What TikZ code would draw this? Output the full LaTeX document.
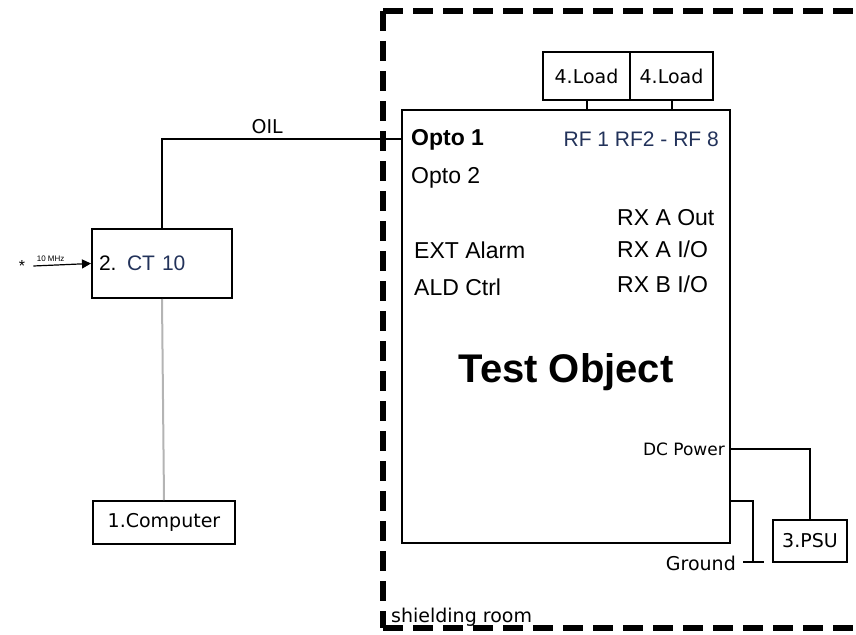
\documentclass[tikz,border=0pt]{standalone}
\usepackage{fontspec}
\setmainfont{Liberation Sans}
\newfontfamily\dvsans{DejaVu Sans}
\usetikzlibrary{arrows.meta,positioning,calc}
\definecolor{TOnavy}{HTML}{22325A}
\definecolor{wireGray}{HTML}{B4B4B4}

\newcommand{\fs}[1]{\fontsize{#1}{#1}\selectfont}

\begin{document}
\begin{tikzpicture}[x=1pt,y=-1pt,
  unit/.style={draw,line width=2pt,inner sep=0pt,font=\dvsans\fs{19}},
  wire/.style={line width=2pt},
  port/.style={inner sep=0pt,font=\fs{23}},
  room/.style={line width=6pt,dash pattern=on 20pt off 10pt}]
\useasboundingbox (0,0) rectangle (856,634);
% shielding room
\draw[room] (383,11) -- (856,11);
\draw[room] (383,11) -- (383,628);
\draw[room] (383,628) -- (856,628);
\node[inner sep=0pt,anchor=base west,font=\dvsans\fs{19}] (roomlbl) at (391,622) {shielding room};
% units
\node[unit,minimum width=328pt,minimum height=433pt] (test) at (566,326.5) {};
\node[unit,minimum width=140pt,minimum height=69pt,text width=126pt,align=left,
  font=\fs{21}] (ct) at (162,263.5) {2. \textcolor{TOnavy}{CT 10}};
\node[unit,minimum width=142pt,minimum height=43pt] (pc) at (164,522.5) {1.Computer};
\node[unit,minimum width=87pt,minimum height=48pt] (load1) at (586.5,76) {4.Load};
\node[unit,minimum width=83pt,minimum height=48pt] (load2) at (671.5,76) {4.Load};
\node[unit,minimum width=74pt,minimum height=42pt] (psu) at (810,541) {3.PSU};
% ports of the test object
\node[port,anchor=base west] (opto1) at (411,145) {\bfseries Opto 1};
\node[port,anchor=base west] (opto2) at (411,183) {Opto 2};
\node[port,anchor=base west] (extalarm) at (414,258) {EXT Alarm};
\node[port,anchor=base west] (aldctrl) at (414,295) {ALD Ctrl};
\node[port,anchor=base east,font=\fs{21},text=TOnavy] (rf) at (719,146) {RF 1 RF2 - RF 8};
\node[port,anchor=base west] (rxaout) at (617,225) {RX A Out};
\node[port,anchor=base west] (rxaio) at (617,257) {RX A I/O};
\node[port,anchor=base west] (rxbio) at (617,292) {RX B I/O};
\node[port,anchor=base east,font=\dvsans\fs{17}] (dcpow) at (725,455) {DC Power};
\node[inner sep=0pt,anchor=base,font=\bfseries\fs{40}] (title) at (566,382) {Test Object};
% links
\draw[wire] (ct.north) |- (test.west |- opto1.center)
  node[pos=0.72,above=5pt,inner sep=0pt,font=\dvsans\fs{19}] (oil) {OIL};
\draw[wire,wireGray] (ct.south) -- (pc.north);
\draw[wire] (load1.south) -- (load1.south |- test.north);
\draw[wire] (load2.south) -- (load2.south |- test.north);
\draw[wire] (test.east |- dcpow.east) -| (psu.north);
\coordinate (gnd) at (753,562);
\draw[wire] ([yshift=43pt]test.south east) -| (gnd);
\draw[wire] ([xshift=-10pt]gnd) -- ([xshift=11pt]gnd);
\node[inner sep=0pt,anchor=base east,font=\dvsans\fs{19}] (gndlbl) at (736,570) {Ground};
% clock input
\node[inner sep=0pt,font=\fs{16}] (clk) at (22,266) {*};
\draw[line width=1.2pt,-{Triangle[length=9pt,width=9pt]}] ([xshift=8pt]clk.east) -- (ct.west)
  node[pos=0.3,above=3pt,inner sep=0pt,font=\fs{8}] (mhz) {10 MHz};
\end{tikzpicture}
\end{document}
